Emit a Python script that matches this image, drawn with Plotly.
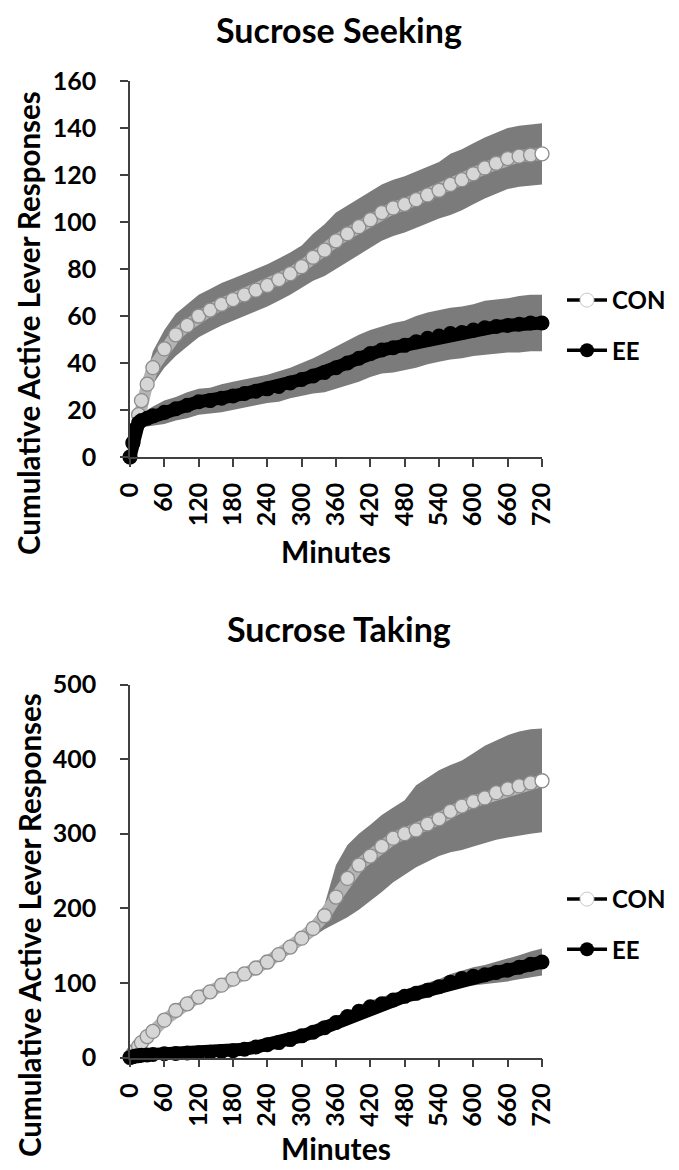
import plotly.graph_objects as go

W, H = 679, 1170
OFF = 8  # page body margin of the browser; positions below are screen pixels

# ---------------- data ----------------
minutes = [0, 5, 10, 15, 20, 30, 40, 60, 80, 100, 120, 140, 160, 180, 200, 220,
           240, 260, 280, 300, 320, 340, 360, 380, 400, 420, 440, 460, 480, 500,
           520, 540, 560, 580, 600, 620, 640, 660, 680, 700, 720]
tick_minutes = [0, 60, 120, 180, 240, 300, 360, 420, 480, 540, 600, 660, 720]

# Sucrose Seeking
seek_con = [0, 6, 12, 18, 24, 31, 38, 46, 52, 56, 60, 62.5, 65, 67, 69, 71, 73,
            75.5, 78, 81, 85, 88, 92, 95, 98, 101, 104, 106, 107.5, 109.5, 111.5,
            113.5, 116, 118, 120.5, 123, 125, 127, 128, 128.5, 129]
seek_con_sem = [0, 1, 2, 3, 4, 5, 7, 8, 9, 9, 9, 9, 9, 9, 9, 9, 9, 9, 9, 9, 10,
                11, 12, 12, 12, 12, 12, 12, 12, 12, 12, 12, 13, 13, 13, 13, 13,
                13, 13, 13, 13]
seek_ee = [0, 6, 12, 14.5, 15.5, 16.5, 17.5, 19, 20.5, 22, 23.5, 24, 25, 26, 27,
           28, 29, 30, 31.5, 33, 34.5, 36, 38, 40, 42, 44, 45.5, 46.5, 47.5, 49,
           50.5, 51.5, 52.5, 53, 54, 55, 55.5, 56, 56.5, 57, 57]
seek_ee_sem = [0, 1, 2, 2.5, 3, 3.5, 4, 5, 5, 5.5, 5.5, 5.5, 6, 6, 6, 6, 6, 6.5,
               6.5, 7, 7.5, 8.5, 9, 9.5, 10, 10, 10, 10.5, 10.5, 11, 11, 11, 11,
               11, 11, 11.5, 11.5, 11.5, 12, 12, 12]

# Sucrose Taking
take_con = [0, 5, 10, 15, 20, 28, 35, 50, 63, 72, 81, 88, 97, 105, 112, 120, 128,
            138, 148, 160, 173, 190, 215, 240, 258, 270, 283, 294, 300, 305, 313,
            320, 330, 337, 343, 348, 355, 360, 364, 368, 371]
take_con_hi = [0, 7, 13, 18, 24, 33, 40, 55, 68, 77, 86, 94, 103, 111, 119, 127,
               136, 146, 157, 170, 184, 205, 258, 285, 300, 312, 325, 335, 345,
               365, 375, 385, 392, 398, 408, 418, 425, 432, 437, 440, 441]
take_con_lo = [0, 3, 7, 12, 16, 23, 30, 45, 58, 67, 76, 82, 91, 99, 105, 113, 120,
               130, 139, 150, 162, 172, 180, 188, 198, 210, 222, 235, 245, 255,
               263, 270, 275, 278, 283, 288, 292, 295, 298, 300, 302]
take_ee = [0, 1, 2, 2.5, 3, 3.5, 4, 5, 5.5, 6, 6.5, 7, 8, 9, 11, 14, 17, 20, 24,
           29, 34, 40, 47, 55, 62, 68, 72, 77, 82, 86, 90, 95, 101, 106, 109, 111,
           114, 117, 121, 125, 128]
take_ee_sem = [0, 0.5, 1, 1, 1, 1, 1, 1, 1.5, 2, 2, 2, 2.5, 3, 3, 3.5, 4, 4, 4.5,
               5, 5.5, 6, 7, 7.5, 8, 8, 8.5, 9, 9, 9.5, 10, 10, 11, 11, 12, 13, 14,
               15, 16, 17, 18]

group_names = ["CON", "EE"]
panel_titles = ["Sucrose Seeking", "Sucrose Taking"]
y_title = "Cumulative Active Lever Responses"
x_title = "Minutes"

# ---------------- styling ----------------
FONT = "Lato"
BAND = "#7b7b7b"
AXIS = "#404040"


def px_x(p):
    return (p - OFF) / W


def px_y(p):
    return 1 - (p - OFF) / H


fig = go.Figure()


def add_panel(xa, ya, legend, con, con_lo, con_hi, ee, ee_lo, ee_hi):
    n = len(minutes)
    con_fill = ["#d6d6d6"] * (n - 1) + ["white"]
    # error bands
    fig.add_trace(go.Scatter(x=minutes + minutes[::-1], y=con_hi + con_lo[::-1],
                             fill="toself", fillcolor=BAND, mode="lines",
                             line=dict(width=0), hoverinfo="skip",
                             showlegend=False, xaxis=xa, yaxis=ya))
    # CON markers
    fig.add_trace(go.Scatter(x=minutes, y=con, mode="lines+markers",
                             line=dict(color="#b4b4b4", width=12),
                             marker=dict(size=14, color=con_fill,
                                         line=dict(color="#8c8c8c", width=1.3)),
                             cliponaxis=False, showlegend=False,
                             xaxis=xa, yaxis=ya))
    fig.add_trace(go.Scatter(x=minutes + minutes[::-1], y=ee_hi + ee_lo[::-1],
                             fill="toself", fillcolor=BAND, mode="lines",
                             line=dict(width=0), hoverinfo="skip",
                             showlegend=False, xaxis=xa, yaxis=ya))
    # EE markers
    fig.add_trace(go.Scatter(x=minutes, y=ee, mode="lines+markers",
                             line=dict(color="black", width=13),
                             marker=dict(size=15, color="black"),
                             cliponaxis=False, showlegend=False,
                             xaxis=xa, yaxis=ya))
    # legend entries
    fig.add_trace(go.Scatter(x=[None], y=[None], mode="lines+markers",
                             name=group_names[0], legend=legend,
                             legendgroup=legend + "con",
                             line=dict(color="black", width=3.5),
                             marker=dict(size=14, color="white",
                                         line=dict(color="#c8c8c8", width=1)),
                             xaxis=xa, yaxis=ya))
    fig.add_trace(go.Scatter(x=[None], y=[None], mode="lines+markers",
                             name=group_names[1], legend=legend,
                             legendgroup=legend + "ee",
                             line=dict(color="black", width=3.5),
                             marker=dict(size=14, color="black"),
                             xaxis=xa, yaxis=ya))


seek_con_lo = [m - s for m, s in zip(seek_con, seek_con_sem)]
seek_con_hi = [m + s for m, s in zip(seek_con, seek_con_sem)]
seek_ee_lo = [m - s for m, s in zip(seek_ee, seek_ee_sem)]
seek_ee_hi = [m + s for m, s in zip(seek_ee, seek_ee_sem)]
take_ee_lo = [m - s for m, s in zip(take_ee, take_ee_sem)]
take_ee_hi = [m + s for m, s in zip(take_ee, take_ee_sem)]

add_panel("x", "y", "legend", seek_con, seek_con_lo, seek_con_hi,
          seek_ee, seek_ee_lo, seek_ee_hi)
add_panel("x2", "y2", "legend2", take_con, take_con_lo, take_con_hi,
          take_ee, take_ee_lo, take_ee_hi)

tickfont = dict(family=FONT, size=25, color="black", weight="bold")
xcommon = dict(range=[0, 720], tickvals=tick_minutes, ticks="outside", ticklen=8,
               tickwidth=1.5, tickcolor=AXIS, showline=True, linecolor=AXIS,
               linewidth=1.5, tickangle=-90, tickfont=tickfont, showgrid=False,
               zeroline=False, ticklabelstandoff=6, fixedrange=True,
               automargin=False)
ycommon = dict(ticks="outside", ticklen=8, tickwidth=1.5, tickcolor=AXIS,
               showline=True, linecolor=AXIS, linewidth=1.5, tickfont=tickfont,
               showgrid=False, zeroline=False, ticklabelstandoff=19,
               fixedrange=True, automargin=False)

legend_common = dict(xanchor="left", yanchor="top", bgcolor="rgba(0,0,0,0)",
                     font=dict(family=FONT, size=24, color="black", weight="bold"),
                     tracegroupgap=16, itemwidth=40)

fig.update_layout(
    width=W, height=H, autosize=False,
    margin=dict(l=0, r=0, t=0, b=0, pad=0, autoexpand=False),
    paper_bgcolor="white", plot_bgcolor="white",
    xaxis=dict(domain=[px_x(130), px_x(542)], anchor="y", **xcommon),
    yaxis=dict(domain=[px_y(457), px_y(81)], anchor="x", range=[0, 160],
               dtick=20, **ycommon),
    xaxis2=dict(domain=[px_x(130), px_x(542)], anchor="y2", **xcommon),
    yaxis2=dict(domain=[px_y(1057.5), px_y(684.5)], anchor="x2",
                range=[0, 500], dtick=100, **ycommon),
    legend=dict(x=px_x(562), y=px_y(278), **legend_common),
    legend2=dict(x=px_x(562), y=px_y(877), **legend_common),
)

ann_font = dict(family=FONT, color="black", weight="bold")
annotations = [
    dict(text=panel_titles[0], x=px_x(339), y=px_y(OFF), yanchor="top",
         borderpad=0, font=dict(size=34, **ann_font)),
    dict(text=panel_titles[1], x=px_x(339), y=px_y(628), font=dict(size=34, **ann_font)),
    dict(text=x_title, x=px_x(336), y=px_y(551), font=dict(size=30, **ann_font)),
    dict(text=x_title, x=px_x(336), y=px_y(1148), font=dict(size=30, **ann_font)),
    dict(text=y_title, x=px_x(29), y=px_y(323), textangle=-90, font=dict(size=29.5, **ann_font)),
    dict(text=y_title, x=px_x(29), y=px_y(925), textangle=-90, font=dict(size=29.5, **ann_font)),
]
for a in annotations:
    a.setdefault("yanchor", "middle")
    a.update(xref="paper", yref="paper", showarrow=False, xanchor="center")
fig.update_layout(annotations=annotations)

fig.write_html("out.html")
